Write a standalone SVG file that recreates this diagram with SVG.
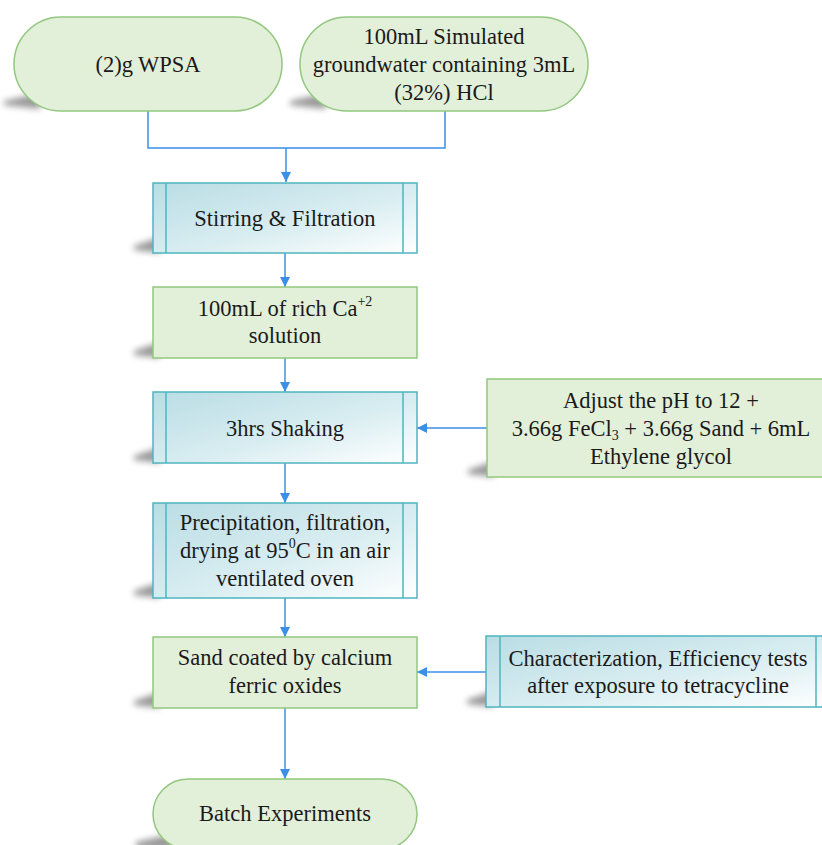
<svg xmlns="http://www.w3.org/2000/svg" width="822" height="845" viewBox="0 0 822 845">
<defs>
<linearGradient id="teal" x1="0" y1="0" x2="1" y2="1">
<stop offset="0" stop-color="#b9dde4"/>
<stop offset="0.55" stop-color="#d8edf1"/>
<stop offset="1" stop-color="#ffffff"/>
</linearGradient>
<filter id="blur" x="-50%" y="-100%" width="200%" height="300%">
<feGaussianBlur stdDeviation="3"/>
</filter>
<marker id="arr" viewBox="0 0 10 10" refX="10" refY="5" markerWidth="10" markerHeight="10" markerUnits="userSpaceOnUse" orient="auto">
<path d="M0,0 L10,5 L0,10 Z" fill="#3b8fe6"/>
</marker>
</defs>
<style>
.txt{font-family:"Liberation Serif","Times New Roman",serif;font-size:22.5px;fill:#1a1a1a;text-anchor:middle}
.gbox{fill:#e2efd9;stroke:#93c77f;stroke-width:1.5}
.tbox{fill:url(#teal);stroke:#4fb4bf;stroke-width:1.5}
.inner{stroke:#4fb4bf;stroke-width:1.5;fill:none}
.sh{fill:#6e6e6e;opacity:0.7;filter:url(#blur)}
.con{stroke:#3b8fe6;stroke-width:1.5;fill:none}
.sup{font-size:14px}
</style>
<rect width="822" height="845" fill="#ffffff"/>

<g id="connectors">
<path class="con" d="M148,111 V148 H445 V111"/>
<path class="con" d="M286,148 V182" marker-end="url(#arr)"/>
<path class="con" d="M285,253 V287" marker-end="url(#arr)"/>
<path class="con" d="M285,358 V392" marker-end="url(#arr)"/>
<path class="con" d="M487,428 H417" marker-end="url(#arr)"/>
<path class="con" d="M285,463 V503" marker-end="url(#arr)"/>
<path class="con" d="M285,598 V637" marker-end="url(#arr)"/>
<path class="con" d="M486,672 H417" marker-end="url(#arr)"/>
<path class="con" d="M285,708 V779" marker-end="url(#arr)"/>
</g>

<g font-family="Liberation Serif, Times New Roman, serif">
<g id="wpsa">
<path class="sh" d="M4,101 L40,93 L40,109 L4,105 Z"/>
<rect class="gbox" x="14" y="17" width="268" height="94" rx="47" ry="47"/>
<text class="txt" x="148" y="72">(2)g WPSA</text>
</g>

<g id="groundwater">
<path class="sh" d="M290,101 L326,93 L326,109 L290,105 Z"/>
<rect class="gbox" x="300" y="17" width="288" height="94" rx="47" ry="47"/>
<text class="txt" x="444" y="44">100mL Simulated</text>
<text class="txt" x="444" y="72">groundwater containing 3mL</text>
<text class="txt" x="444" y="100">(32%) HCl</text>
</g>

<g id="stirring">
<path class="sh" d="M134,246 L160,237 L160,253 L134,250 Z"/>
<rect class="tbox" x="153" y="183" width="264" height="70"/>
<line class="inner" x1="166" y1="183" x2="166" y2="253"/>
<line class="inner" x1="403" y1="183" x2="403" y2="253"/>
<text class="txt" x="285" y="226">Stirring &amp; Filtration</text>
</g>

<g id="calcium">
<path class="sh" d="M134,351 L160,342 L160,358 L134,355 Z"/>
<rect class="gbox" x="153" y="287" width="264" height="71"/>
<text class="txt" x="285" y="316">100mL  of rich Ca<tspan class="sup" dy="-10">+2</tspan></text>
<text class="txt" x="285" y="343">solution</text>
</g>

<g id="shaking">
<path class="sh" d="M134,456 L160,447 L160,463 L134,460 Z"/>
<rect class="tbox" x="153" y="392" width="264" height="71"/>
<line class="inner" x1="166" y1="392" x2="166" y2="463"/>
<line class="inner" x1="403" y1="392" x2="403" y2="463"/>
<text class="txt" x="285" y="436">3hrs Shaking</text>
</g>

<g id="adjust">
<path class="sh" d="M468,470 L494,461 L494,477 L468,474 Z"/>
<rect class="gbox" x="487" y="379" width="348" height="98"/>
<text class="txt" x="661" y="408">Adjust the pH to 12 +</text>
<text class="txt" x="661" y="436">3.66g FeCl<tspan class="sup" dy="4">3</tspan><tspan dy="-4"> + 3.66g Sand + 6mL</tspan></text>
<text class="txt" x="661" y="464">Ethylene glycol</text>
</g>

<g id="precipitation">
<path class="sh" d="M134,591 L160,582 L160,598 L134,595 Z"/>
<rect class="tbox" x="153" y="503" width="264" height="95"/>
<line class="inner" x1="166" y1="503" x2="166" y2="598"/>
<line class="inner" x1="403" y1="503" x2="403" y2="598"/>
<text class="txt" x="285" y="530">Precipitation, filtration,</text>
<text class="txt" x="285" y="558">drying at 95<tspan class="sup" dy="-10">0</tspan><tspan dy="10">C in an air</tspan></text>
<text class="txt" x="285" y="586">ventilated oven</text>
</g>

<g id="sand">
<path class="sh" d="M134,701 L160,692 L160,708 L134,705 Z"/>
<rect class="gbox" x="153" y="637" width="264" height="71"/>
<text class="txt" x="285" y="665">Sand coated by calcium</text>
<text class="txt" x="285" y="693">ferric oxides</text>
</g>

<g id="characterization">
<path class="sh" d="M467,700 L493,691 L493,707 L467,704 Z"/>
<rect class="tbox" x="486" y="636" width="344" height="71"/>
<line class="inner" x1="500" y1="636" x2="500" y2="707"/>
<line class="inner" x1="816" y1="636" x2="816" y2="707"/>
<text class="txt" x="658" y="666">Characterization, Efficiency tests</text>
<text class="txt" x="658" y="693">after exposure to tetracycline</text>
</g>

<g id="batch">
<path class="sh" d="M136,842 L172,834 L172,850 L136,848 Z"/>
<rect class="gbox" x="153" y="779" width="264" height="70" rx="35" ry="35"/>
<text class="txt" x="285" y="821">Batch Experiments</text>
</g>
</g>
</svg>
